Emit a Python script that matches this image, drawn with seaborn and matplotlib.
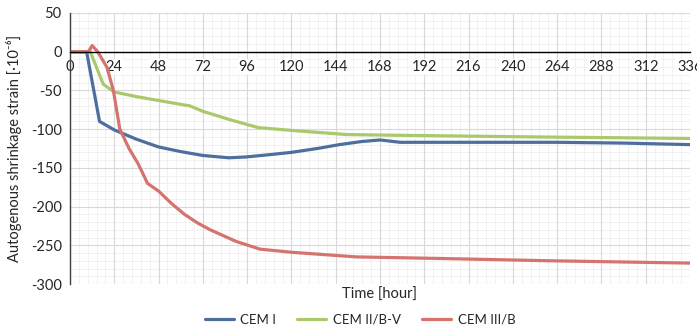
import matplotlib
matplotlib.use("Agg")
import matplotlib.pyplot as plt
import seaborn as sns
import pandas as pd
import numpy as np
from matplotlib.ticker import MultipleLocator

sns.set_style("white")
plt.rcParams['font.family'] = ['Lato', 'DejaVu Sans']
plt.rcParams['axes.unicode_minus'] = False

# CEM I
t_cem1 = [0, 9, 16, 24, 36, 48, 60, 72, 86, 95, 108, 120, 134, 146, 158, 168, 179, 200, 240, 264, 300, 336]
s_cem1 = [0, 0, -90, -101, -113, -123, -129, -134, -137, -136, -133, -130, -125, -120, -116, -114, -117, -117, -117, -117, -118, -120]
# CEM II/B-V
t_cem2 = [0, 11, 18, 24, 36, 48, 65, 72, 87, 102, 122, 150, 180, 250, 336]
s_cem2 = [0, 0, -42, -52, -58, -63, -70, -77, -88, -98, -102, -107, -108, -110, -112]
# CEM III/B
t_cem3 = [0, 10, 12, 15, 20, 23.5, 27, 32, 37, 42, 48, 55, 62, 69, 76, 90, 103, 120, 155, 200, 260, 336]
s_cem3 = [0, 0, 8, 0, -20, -50, -100, -125, -145, -170, -180, -196, -210, -221, -230, -245, -255, -259, -265, -267, -270, -273]

labels = ["CEM I", "CEM II/B-V", "CEM III/B"]
colors = ["#4e6f9e", "#a9c96d", "#d5736e"]

frames = []
for lab, t, s in zip(labels, [t_cem1, t_cem2, t_cem3], [s_cem1, s_cem2, s_cem3]):
    frames.append(pd.DataFrame({"t": t, "s": s, "mix": lab}))
df = pd.concat(frames, ignore_index=True)

fig = plt.figure(figsize=(6.97, 3.29), dpi=100)
ax = fig.add_axes([70/697, 1-284/329, 620/697, 271/329])

sns.lineplot(data=df, x="t", y="s", hue="mix", palette=colors, estimator=None,
             sort=False, linewidth=2.3, ax=ax, legend=True)

ax.set_xlim(0, 336)
ax.set_ylim(-300, 50)
ax.xaxis.set_major_locator(MultipleLocator(24))
ax.yaxis.set_major_locator(MultipleLocator(50))

# minor grid drawn below everything (so it does not cross tick labels)
ax.vlines(np.arange(0, 336.1, 4.8), -300, 50, colors='#efefef', linewidth=0.6, zorder=0.1)
ax.hlines(np.arange(-300, 50.1, 10), 0, 336, colors='#efefef', linewidth=0.6, zorder=0.1)
ax.grid(which='major', color='#d9d9d9', linewidth=0.8)
ax.set_axisbelow(True)
ax.xaxis.set_zorder(0.6)
ax.yaxis.set_zorder(0.5)
ax.set_xlim(0, 336)
ax.set_ylim(-300, 50)

for sp in ['top', 'right']:
    ax.spines[sp].set_visible(False)
ax.spines['bottom'].set_position(('data', 0))
ax.spines['bottom'].set_color('black')
ax.spines['bottom'].set_linewidth(1.0)
ax.spines['left'].set_color('#404040')
ax.spines['left'].set_linewidth(1.0)
ax.tick_params(axis='x', which='major', direction='inout', length=8, width=1, labelsize=10.5, pad=2)
ax.tick_params(axis='y', which='major', direction='out', length=3, width=1, labelsize=10.5, pad=3)
ax.set_xticks(range(0, 337, 24))

ax.set_xlabel("")
ax.set_ylabel("Autogenous shrinkage strain [·10⁻⁶]", fontsize=10.5)
ax.yaxis.set_label_coords(-0.077, 0.5)
fig.text(380/697, 1-295/329, "Time [hour]", ha='center', va='center', fontsize=10.5)

handles, labs = ax.get_legend_handles_labels()
ax.legend(handles, labs, loc='center', bbox_to_anchor=(360/697, 1-320/329),
          bbox_transform=fig.transFigure, ncol=3, frameon=False, fontsize=9.5,
          handlelength=2.2, columnspacing=1.6, handletextpad=0.5)

fig.canvas.draw()
for tick in ax.xaxis.get_major_ticks():
    tick.label1.set_bbox(dict(facecolor='white', edgecolor='none', pad=0.8))

fig.savefig("out.png", dpi=100)
